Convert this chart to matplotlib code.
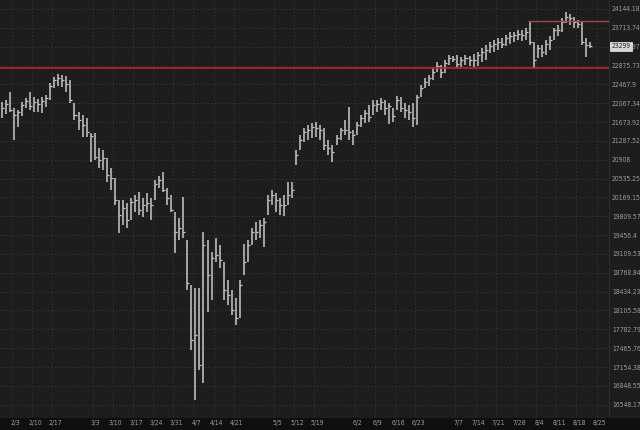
import numpy as np
import pandas as pd
import matplotlib
matplotlib.use("Agg")
import matplotlib.pyplot as plt
from matplotlib.patches import Rectangle

first_day = "2025-01-29"
last_day = "2025-08-21"

# daily high / low / close, one row per week (Mon..Fri)
highs = [
    22093, 22135, 22305,
    21967, 21925, 22093, 22177, 22305,
    22199, 22156, 22199, 22241, 22498,
    22627, 22692, 22670, 22648, 22562,
    22072, 21883, 21821, 21758, 21449,
    21449, 21144, 21103, 20943, 20744,
    20546, 20120, 20120, 20062, 20159,
    20216, 20274, 20159, 20255, 20159,
    20507, 20586, 20665, 20352, 20216,
    19890, 19777, 20178, 19366, 18552,
    18498, 18498, 19514, 19366, 19146,
    19403, 19274, 18964, 18640, 18463,
    18323, 18640, 19292, 19366, 19589,
    19701, 19739, 19777, 20216, 20313,
    20255, 20159, 20216, 20468, 20468,
    21103, 21408, 21551, 21613, 21654,
    21675, 21613, 21551, 21306, 21205,
    21408, 21551, 21716, 21988, 21510,
    21675, 21821, 21925, 22030, 22135,
    22135, 22177, 22135, 22072, 21967,
    22220, 22199, 22072, 22030, 22072,
    22241, 22455, 22605, 22670, 22822,
    22953, 22887, 22997, 23107, 23085,
    23107, 23063, 23107, 23085, 23129,
    23173, 23262, 23328, 23395, 23440,
    23485, 23485, 23553, 23620, 23620,
    23665, 23665, 23710, 23869, 23395,
    23328, 23328, 23440, 23530, 23710,
    23778, 23937, 24075, 24029, 23960,
    23892, 23846, 23485, 23395,
]
lows = [
    21758, 21841, 21883,
    21306, 21572, 21800, 21967, 21925,
    21883, 21883, 21862, 21988, 22135,
    22390, 22433, 22412, 22305, 22072,
    21716, 21510, 21367, 21367, 20863,
    20903, 20744, 20704, 20468, 20313,
    20024, 19496, 19645, 19589, 19739,
    19890, 19834, 19796, 19890, 19739,
    20120, 20352, 20274, 20024, 19890,
    19127, 19366, 19403, 18463, 17436,
    16623, 17106, 16895, 18080, 18288,
    18964, 18855, 18288, 18201, 18028,
    17857, 17976, 18730, 18964, 19274,
    19366, 19403, 19237, 19834, 20024,
    19890, 19834, 19815, 20024, 20159,
    20804, 21103, 21265, 21306, 21347,
    21367, 21306, 21103, 21003, 20863,
    21205, 21306, 21408, 21306, 21205,
    21408, 21572, 21654, 21675, 21821,
    21883, 21925, 21821, 21633, 21675,
    21925, 21883, 21758, 21716, 21572,
    21613, 22199, 22390, 22433, 22562,
    22735, 22605, 22713, 22887, 22953,
    22822, 22844, 22887, 22866, 22844,
    22866, 22953, 22997, 23151, 23173,
    23217, 23262, 23306, 23351, 23395,
    23440, 23418, 23440, 23328, 22822,
    23041, 23063, 23107, 23217, 23440,
    23530, 23620, 23823, 23778, 23710,
    23710, 23328, 23063, 23262,
]
closes = [
    21967, 22051, 21925,
    21821, 21883, 22030, 22114, 22009,
    22093, 22051, 22114, 22177, 22433,
    22562, 22605, 22562, 22476, 22135,
    21821, 21716, 21613, 21469, 21388,
    20963, 20903, 20943, 20606, 20546,
    20120, 19834, 19966, 19739, 20082,
    20120, 19928, 20024, 20062, 20024,
    20429, 20507, 20313, 20159, 19928,
    19514, 19589, 19514, 18587, 17603,
    17688, 17188, 19274, 18730, 19036,
    19091, 19000, 18463, 18376, 18114,
    17976, 18552, 18964, 19274, 19514,
    19514, 19645, 19701, 20120, 20216,
    20120, 20024, 20024, 20216, 20313,
    21003, 21306, 21469, 21510, 21572,
    21551, 21510, 21205, 21144, 21063,
    21347, 21510, 21510, 21469, 21408,
    21613, 21758, 21862, 21779, 22030,
    22051, 22093, 21967, 22009, 21800,
    22135, 21967, 21925, 21883, 21758,
    22199, 22390, 22519, 22605, 22735,
    22866, 22735, 22931, 23041, 23019,
    22909, 22997, 23041, 22997, 22997,
    23107, 23173, 23217, 23306, 23351,
    23395, 23351, 23485, 23530, 23553,
    23575, 23553, 23620, 23395, 22997,
    23262, 23173, 23351, 23440, 23665,
    23665, 23846, 23960, 23937, 23846,
    23801, 23395, 23328, 23299,
]

y_tick_labels = ["24144.18", "23713.74", "23290.97", "22875.73", "22467.9",
                 "22067.34", "21673.92", "21287.52", "20908", "20535.25",
                 "20169.15", "19809.57", "19456.4", "19109.53", "18768.84",
                 "18434.23", "18105.58", "17782.79", "17465.76", "17154.38",
                 "16848.55", "16548.17"]
x_tick_labels = ["2/3", "2/10", "2/17", "3/3", "3/10", "3/17", "3/24", "3/31",
                 "4/7", "4/14", "4/21", "5/5", "5/12", "5/19", "6/2", "6/9",
                 "6/16", "6/23", "7/7", "7/14", "7/21", "7/28", "8/4", "8/11",
                 "8/18", "8/25"]

support_level = 22822
resistance_level = 23869
resistance_from = "2025-07-31"
last_price = 23299

BG = "#1d1d1d"
STRIP = "#0f0f0f"
BAR = "#c8c8c8"
TXT = "#9c9c9c"
GRID = "#3a3a3a"

plt.rcParams["font.family"] = ["DejaVu Sans"]
plt.rcParams["font.stretch"] = "condensed"
FS = 4.9

dates = pd.bdate_range(first_day, last_day)
origin = np.datetime64("2025-02-03")
pos = np.busday_count(origin, dates.values.astype("datetime64[D]"))

fig = plt.figure(figsize=(6.4, 4.3), dpi=100, facecolor=BG)
fig.patches.append(Rectangle((0, 0), 1, 12 / 430, transform=fig.transFigure,
                             facecolor=STRIP, edgecolor="none", zorder=-5))
ax = fig.add_axes([0, 13 / 430, 609 / 640, 417 / 430])
ax.set_facecolor(BG)

# OHLC-style bars: high-low range plus close tick
ax.vlines(pos + 0.5, lows, highs, color=BAR, lw=1.1, zorder=3)
ax.hlines(closes, pos + 0.5, pos + 1.0, color=BAR, lw=0.9, zorder=3)

ax.axhline(support_level, color="#c0232b", lw=1.2, zorder=4)
r0 = np.busday_count(origin, np.datetime64(resistance_from))
ax.hlines(resistance_level, r0, 160, color="#9a4a4a", lw=1.0, zorder=4)

ax.set_yscale("log")
ax.set_ylim(16355, 24352)
ax.set_xlim(-2.98, 148.1)

yt = [float(s) for s in y_tick_labels]
ax.yaxis.tick_right()
ax.set_yticks(yt)
ax.set_yticklabels(y_tick_labels)
ax.yaxis.set_minor_locator(matplotlib.ticker.NullLocator())
ax.tick_params(axis="y", length=0, pad=2.2, labelsize=FS, colors=TXT)
ax.grid(axis="y", color=GRID, ls=(0, (1, 2.5)), lw=0.7)

xt = np.busday_count(origin, np.array(["2025-%02d-%02d" % tuple(int(v) for v in s.split("/"))
                                       for s in x_tick_labels], dtype="datetime64[D]"))
for p in xt:
    ax.axvline(p, color=GRID, ls=(0, (1, 2.5)), lw=0.7, zorder=1)
ax.set_xticks(xt + 0.75)
ax.set_xticklabels(x_tick_labels)
ax.tick_params(axis="x", length=0, pad=2.5, labelsize=FS, colors=TXT,
               bottom=True, labelbottom=True)

for side in ["top", "left", "bottom"]:
    ax.spines[side].set_visible(False)
ax.spines["right"].set_color("#2c2c2c")

ax.annotate(str(last_price), xy=(1, last_price), xycoords=("axes fraction", "data"),
            xytext=(1.6, 0), textcoords="offset points", ha="left", va="center",
            fontsize=FS, color="#202020", zorder=10, annotation_clip=False,
            bbox=dict(boxstyle="square,pad=0.2", fc="#d6d6d6", ec="#f0f0f0", lw=0.5))

fig.savefig("out.png", dpi=100, facecolor=BG)
